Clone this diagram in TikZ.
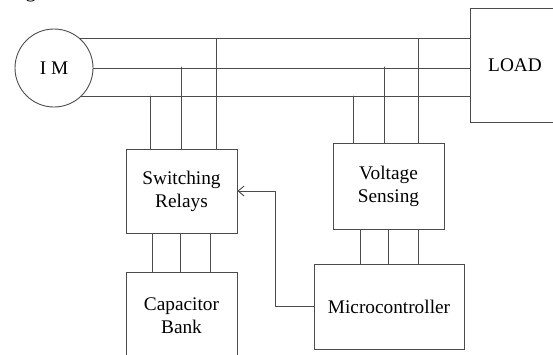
\documentclass[tikz,border=0pt]{standalone}
\usepackage{fontspec}
\setmainfont{Liberation Serif}
\usetikzlibrary{arrows.meta}

\begin{document}
\begin{tikzpicture}[x=1pt,y=-1pt]
\tikzset{
  blocknode/.style={rectangle,draw=black!70,line width=0.9pt,align=center,inner sep=1pt,font=\fontsize{19.3}{23}\selectfont},
  machinenode/.style={circle,draw=black!70,line width=0.9pt,minimum size=78pt,inner sep=1pt,font=\fontsize{19.3}{23}\selectfont},
  wire/.style={draw=black!70,line width=0.9pt,line cap=round,line join=round},
  signal/.style={wire,-{Straight Barb[length=6pt,width=10pt,line width=0.9pt]}}
}
\clip (0,0) rectangle (553,354);
\node[anchor=base west,inner sep=0pt,font=\fontsize{21}{25}\selectfont] (n_fig) at (8,-3) {Fig. 3};
\node[machinenode] (n_im) at (54,68) {I M};
\node[blocknode,minimum width=90pt,minimum height=114pt] (n_load) at (515,65) {LOAD};
\node[blocknode,minimum width=111pt,minimum height=84pt] (n_sw) at (181.5,191) {Switching\\Relays};
\node[blocknode,minimum width=111pt,minimum height=88pt] (n_cap) at (181.5,316) {Capacitor\\Bank};
\node[blocknode,minimum width=111pt,minimum height=86pt] (n_vs) at (388.5,186) {Voltage\\Sensing};
\node[blocknode,minimum width=150pt,minimum height=85pt] (n_mc) at (389,306.5) {Microcontroller};
% three-phase bus
\draw[wire] (n_im.48) -- (n_im.48 -| n_load.west);
\draw[wire] (n_im.east) -- (n_im.east -| n_load.west);
\draw[wire] (n_im.-46) -- (n_im.-46 -| n_load.west);
\coordinate (t_s1) at (150,96);
\coordinate (t_s2) at (181,67);
\coordinate (t_s3) at (216,39);
\coordinate (t_v1) at (353,96);
\coordinate (t_v2) at (384,67);
\coordinate (t_v3) at (418,39);
\draw[wire] (t_s1) -- (t_s1 |- n_sw.north);
\draw[wire] (t_s2) -- (t_s2 |- n_sw.north);
\draw[wire] (t_s3) -- (t_s3 |- n_sw.north);
\draw[wire] (t_v1) -- (t_v1 |- n_vs.north);
\draw[wire] (t_v2) -- (t_v2 |- n_vs.north);
\draw[wire] (t_v3) -- (t_v3 |- n_vs.north);
\foreach \x in {152,180,210}
  \draw[wire] (\x,0 |- n_sw.south) -- (\x,0 |- n_cap.north);
\foreach \x in {360,388,418}
  \draw[wire] (\x,0 |- n_vs.south) -- (\x,0 |- n_mc.north);
\draw[signal] (n_mc.west) -- ++(-38,0) |- (n_sw.east);
\end{tikzpicture}
\end{document}
